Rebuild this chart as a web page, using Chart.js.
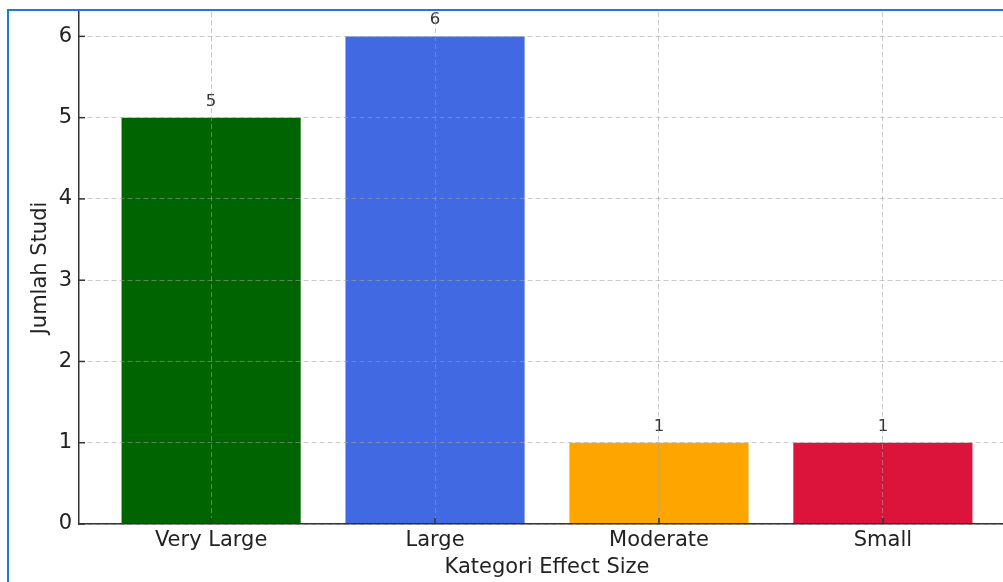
<!DOCTYPE html>
<html>
<head>
<meta charset="utf-8">
<script src="https://cdn.jsdelivr.net/npm/chart.js@4.4.1/dist/chart.umd.min.js"></script>
<style>
  body{margin:0;background:#fff;overflow:hidden;width:1003px;height:582px;position:relative}
  #chart{position:absolute;left:0;top:0}
  #frame{position:absolute;left:7px;top:9px;width:1100px;height:700px;border:2px solid #1d7bd7;
         box-sizing:border-box;pointer-events:none;z-index:2}
</style>
</head>
<body>
<canvas id="chart" width="1015" height="582"></canvas>
<div id="frame"></div>
<script>
// ======= Data =======
const categories = ['Very Large', 'Large', 'Moderate', 'Small'];
const counts = [5, 6, 1, 1];
const yTicks = [0, 1, 2, 3, 4, 5, 6];
const barColors = ['#006400', '#4169E1', '#FFA500', '#DC143C'];

const FONT = 'DejaVu Sans';
const gridColor = 'rgba(160,160,160,0.55)';

// value labels above bars
const valueLabels = {
  id: 'valueLabels',
  afterDatasetsDraw(chart){
    const ctx = chart.ctx;
    const meta = chart.getDatasetMeta(0);
    ctx.save();
    ctx.font = '16.5px "' + FONT + '"';
    ctx.fillStyle = '#333';
    ctx.textAlign = 'center';
    ctx.textBaseline = 'alphabetic';
    meta.data.forEach((bar, i) => ctx.fillText(String(counts[i]), bar.x, bar.y - 12));
    ctx.restore();
  }
};

// tick marks point inward, like the original
const innerTicks = {
  id: 'innerTicks',
  afterDraw(chart){
    const {ctx, chartArea: a, scales: {x, y}} = chart;
    ctx.save();
    ctx.strokeStyle = '#333'; ctx.lineWidth = 1.5;
    y.ticks.forEach(t => {
      const p = y.getPixelForValue(t.value);
      ctx.beginPath(); ctx.moveTo(a.left, p); ctx.lineTo(a.left + 6, p); ctx.stroke();
    });
    x.ticks.forEach(t => {
      const p = x.getPixelForValue(t.value);
      ctx.beginPath(); ctx.moveTo(p, a.bottom); ctx.lineTo(p, a.bottom - 6); ctx.stroke();
    });
    ctx.restore();
  }
};

new Chart(document.getElementById('chart').getContext('2d'), {
  type: 'bar',
  data: {
    datasets: [{
      data: categories.map((c, i) => ({x: i, y: counts[i]})),
      backgroundColor: barColors,
      borderWidth: 0,
      barPercentage: 0.8,
      categoryPercentage: 1
    }]
  },
  options: {
    responsive: false,
    animation: false,
    devicePixelRatio: 1,
    layout: {padding: {top: 12, right: 0, bottom: 0, left: 0}},
    plugins: {legend: {display: false}, tooltip: {enabled: false}},
    scales: {
      x: {
        type: 'linear', min: -0.59, max: 3.59, offset: false, z: 1,
        afterBuildTicks: s => { s.ticks = categories.map((c, i) => ({value: i})); },
        afterFit: s => { s.height = 58; s.paddingLeft = 0; s.paddingRight = 0; },
        grid: {color: gridColor, lineWidth: 1, drawTicks: false, offset: false, z: 1},
        border: {display: true, color: '#333', width: 1.5, dash: [5, 3], z: 2},
        ticks: {
          padding: 4, color: '#222', font: {family: FONT, size: 21},
          maxRotation: 0, autoSkip: false,
          callback: v => categories[v]
        },
        title: {display: true, text: 'Kategori Effect Size', color: '#222',
                font: {family: FONT, size: 21}, padding: {top: 0, bottom: 2}}
      },
      y: {
        min: 0, max: 6.3, z: 1,
        afterBuildTicks: s => { s.ticks = yTicks.map(v => ({value: v})); },
        afterFit: s => { s.width = 79; s.paddingTop = 0; s.paddingBottom = 0; },
        grid: {color: gridColor, lineWidth: 1, drawTicks: false, z: 1},
        border: {display: true, color: '#333', width: 1.5, dash: [5, 3], z: 2},
        ticks: {padding: 7, color: '#222', font: {family: FONT, size: 21}},
        title: {display: true, text: 'Jumlah Studi', color: '#222',
                font: {family: FONT, size: 21}, padding: {top: 28, bottom: 0}}
      }
    }
  },
  plugins: [valueLabels, innerTicks]
});
</script>
</body>
</html>
